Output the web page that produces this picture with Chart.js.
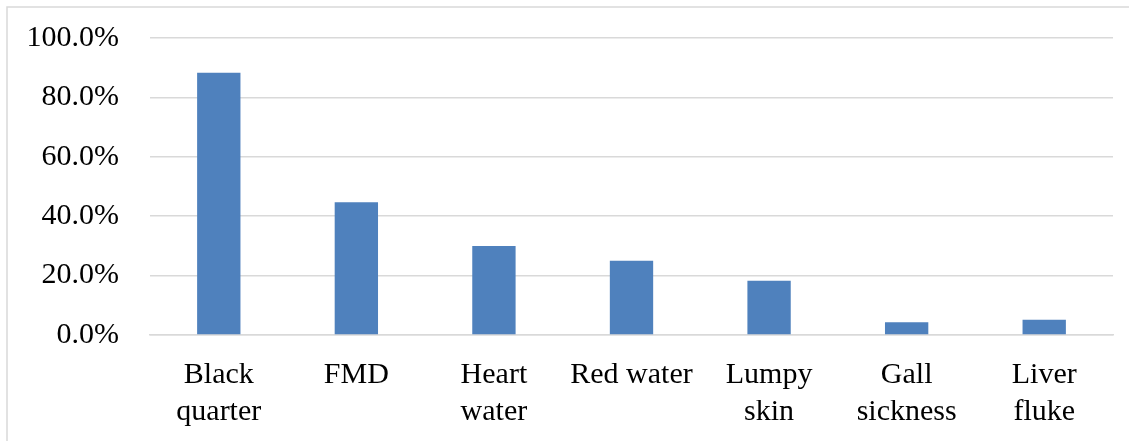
<!DOCTYPE html>
<html>
<head>
<meta charset="utf-8">
<script src="https://cdn.jsdelivr.net/npm/chart.js@4"></script>
<style>
  html, body { margin: 0; padding: 0; background: #fff; }
  #wrap { width: 1129px; height: 441px; position: relative; }
</style>
</head>
<body>
<div id="wrap"><canvas id="c" width="1129" height="441"></canvas></div>
<script>
const categories = [["Black", "quarter"], "FMD", ["Heart", "water"], "Red water", ["Lumpy", "skin"], ["Gall", "sickness"], ["Liver", "fluke"]];
const values = [88.3, 44.7, 30.0, 25.0, 18.3, 4.3, 5.1];
const yTickValues = [0, 20, 40, 60, 80, 100];
const yTickLabels = ["0.0%", "20.0%", "40.0%", "60.0%", "80.0%", "100.0%"];

const frame = {
  id: 'frame',
  beforeDraw(chart) {
    const ctx = chart.ctx;
    ctx.save();
    ctx.fillStyle = '#ffffff';
    ctx.fillRect(0, 0, chart.width, chart.height);
    ctx.strokeStyle = '#d9d9d9';
    ctx.lineWidth = 1.5;
    ctx.strokeRect(7, 7, chart.width + 50, chart.height + 50);
    ctx.restore();
  }
};

const font = { family: "'Liberation Serif', 'Times New Roman', serif", size: 30, lineHeight: 1.22 };

new Chart(document.getElementById('c'), {
  type: 'bar',
  data: {
    labels: categories,
    datasets: [{
      data: values,
      backgroundColor: '#4f81bd',
      borderWidth: 0,
      barPercentage: 0.315,
      categoryPercentage: 1.0
    }]
  },
  options: {
    responsive: false,
    animation: false,
    layout: { padding: { left: 0, right: 16, top: 38, bottom: 0 } },
    plugins: { legend: { display: false }, tooltip: { enabled: false } },
    scales: {
      x: {
        grid: { display: false },
        border: { display: true, color: '#d9d9d9', width: 1.5 },
        ticks: { color: '#000', font: font, padding: 14, maxRotation: 0, autoSkip: false },
        afterFit(s) { s.height = 441 - 335; s.paddingLeft = 0; s.paddingRight = 0; }
      },
      y: {
        min: 0, max: 100,
        afterBuildTicks(s) { s.ticks = yTickValues.map(v => ({ value: v })); },
        grid: { color: '#d9d9d9', lineWidth: 1.5, drawTicks: false },
        border: { display: false },
        ticks: {
          color: '#000', font: font, padding: 31,
          callback: (v) => yTickLabels[yTickValues.indexOf(v)]
        },
        afterFit(s) { s.width = 150; s.paddingTop = 0; s.paddingBottom = 0; }
      }
    }
  },
  plugins: [frame]
});
</script>
</body>
</html>
